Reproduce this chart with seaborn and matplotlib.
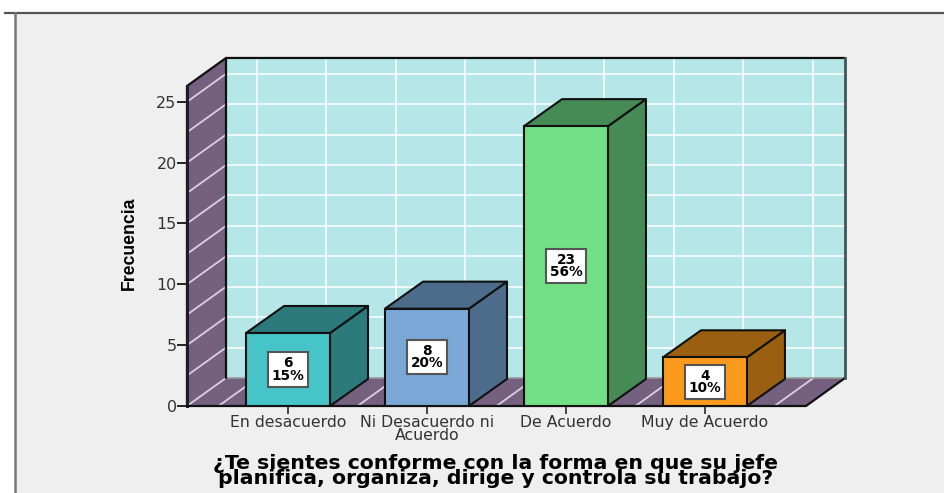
import matplotlib
matplotlib.use("Agg")
import matplotlib.pyplot as plt
from matplotlib.patches import Polygon, Rectangle
from matplotlib.lines import Line2D
import pandas as pd
import seaborn as sns

categories = ["En desacuerdo", "Ni Desacuerdo ni\nAcuerdo", "De Acuerdo", "Muy de Acuerdo"]
counts = [6, 8, 23, 4]
percents = [15, 20, 56, 10]
front_colors = ["#47C4C7", "#7AA7D6", "#72DF84", "#FC9A1E"]
side_colors = ["#2C7A7B", "#4D6C8C", "#468A55", "#9A5F10"]
y_label = "Frecuencia"
x_label = "¿Te sientes conforme con la forma en que su jefe\nplanifica, organiza, dirige y controla su trabajo?"

W, H = 945, 493
fig = plt.figure(figsize=(W / 100, H / 100), dpi=100, facecolor="white")

# page frame
fig.add_artist(Rectangle((15 / W, 0), 1, 1 - 13 / H, transform=fig.transFigure, fc="#EFEFEF", ec="none", zorder=-5))
fig.add_artist(Line2D([5 / W, 1], [1 - 13 / H] * 2, transform=fig.transFigure, color="#555555", lw=1.6, zorder=-4))
fig.add_artist(Line2D([15 / W] * 2, [0, 1 - 13 / H], transform=fig.transFigure, color="#777777", lw=1.8, zorder=-4))

ax = fig.add_axes([187 / W, 1 - 406 / H, (806 - 187) / W, (406 - 86) / H], facecolor="none")
df = pd.DataFrame({"cat": categories, "n": counts})
sns.barplot(data=df, x="cat", y="n", hue="cat", palette=front_colors, width=0.604,
            saturation=1, legend=False, edgecolor="#111111", linewidth=1.5, zorder=6, ax=ax)

x0, x1 = -0.727, 3.727
ytop = 26.3
ax.set_xlim(x0, x1)
ax.set_ylim(0, ytop)
dx, dy = 39 / 139, 28 / 12.16       # wall depth
bx, by = 38 / 139, 27 / 12.16       # bar depth

WALL, SIDE = "#B5E7E8", "#756080"
edge = "#111111"
ax.add_patch(Polygon([(x0 + dx, dy), (x1 + dx, dy), (x1 + dx, ytop + dy), (x0 + dx, ytop + dy)],
                     fc=WALL, ec="none", zorder=1, clip_on=False))
ax.add_patch(Polygon([(x0, 0), (x0 + dx, dy), (x0 + dx, ytop + dy), (x0, ytop)],
                     fc=SIDE, ec="none", zorder=1, clip_on=False))
ax.add_patch(Polygon([(x0, 0), (x1, 0), (x1 + dx, dy), (x0 + dx, dy)],
                     fc=SIDE, ec="none", zorder=1, clip_on=False))

# grid
grid_y = [2.5 * i for i in range(1, 11)]
grid_x = [-0.5 + 0.5 * i for i in range(9)]
gkw = dict(color="white", lw=1.3, zorder=2, clip_on=False, alpha=0.85)
for v in grid_y:
    ax.plot([x0 + dx, x1 + dx], [v + dy, v + dy], **gkw)
    ax.plot([x0, x0 + dx], [v, v + dy], color="#D9D2DC", lw=1.3, zorder=2, clip_on=False)
for g in grid_x:
    ax.plot([g + dx - 0.005, g + dx - 0.005], [dy, ytop + dy], **gkw)
    ax.plot([g, g + dx], [0, dy], color="#D9D2DC", lw=1.3, zorder=2, clip_on=False)
ax.plot([x0, x0 + dx], [0, dy], color="#D9D2DC", lw=1.3, zorder=2, clip_on=False)

# frame of the walls
kw = dict(color=edge, lw=1.6, zorder=3, clip_on=False, solid_capstyle="round")
ax.plot([x0, x0, x0 + dx, x1 + dx], [0, ytop, ytop + dy, ytop + dy], **kw)
ax.plot([x0, x0], [0, ytop], color="#221A26", lw=2.2, zorder=3, clip_on=False)
ax.plot([x0 + dx, x0 + dx], [dy, ytop + dy], **kw)
ax.plot([x0, x1, x1 + dx], [0, 0, dy], **kw)
ax.plot([x1 + dx, x1 + dx], [dy, ytop + dy], color="#3F5557", lw=2, zorder=3, clip_on=False)
ax.plot([x0 + dx, x1 + dx], [dy, dy], color="#9A9A9A", lw=1.2, zorder=2.5, clip_on=False)

# 3D faces and value labels of each bar, taken from the bars seaborn drew
bars = sorted([p for p in ax.patches if isinstance(p, Rectangle) and p.get_zorder() == 6],
              key=lambda p: p.get_x())
for bar, side, n, pct in zip(bars, side_colors, counts, percents):
    l, w, h = bar.get_x(), bar.get_width(), bar.get_height()
    r = l + w
    fkw = dict(fc=side, ec=edge, lw=1.5, zorder=5, clip_on=False, joinstyle="round")
    ax.add_patch(Polygon([(r, 0), (r + bx, by), (r + bx, h + by), (r, h)], **fkw))
    ax.add_patch(Polygon([(l, h), (l + bx, h + by), (r + bx, h + by), (r, h)], **fkw))
    ax.text(l + w / 2, h / 2, f"{n}\n{pct}%", ha="center", va="center", ma="center",
            fontsize=9.8, fontweight="bold", family="DejaVu Sans", color="black", linespacing=0.82,
            zorder=8, bbox=dict(boxstyle="square,pad=0.3", fc="white", ec="#555555", lw=1.5))

# axes
for s in ax.spines.values():
    s.set_visible(False)
ax.set_yticks([0, 5, 10, 15, 20, 25])
ax.set_xticks(range(len(categories)))
ax.set_xticklabels(categories, linespacing=0.8)
ax.tick_params(axis="y", length=7.5, width=1.4, color="#222222", labelsize=11.4, labelcolor="#333333", pad=0)
ax.tick_params(axis="x", length=6, width=1.4, color="#444444", labelsize=11.3, labelcolor="#333333", pad=0.5)
ax.set_xlabel("")
ax.set_ylabel("")
fig.text(129 / W, 1 - 243 / H, y_label, rotation=90, ha="center", va="center",
         family="Liberation Sans", fontweight="bold", fontsize=12.7, color="black")
fig.text(496 / W, 1 - 471 / H, x_label, ha="center", va="center", ma="center",
         family="DejaVu Sans", fontweight="bold", fontsize=14.7, color="black", linespacing=0.71)

fig.savefig("out.png", dpi=100, facecolor="white")
